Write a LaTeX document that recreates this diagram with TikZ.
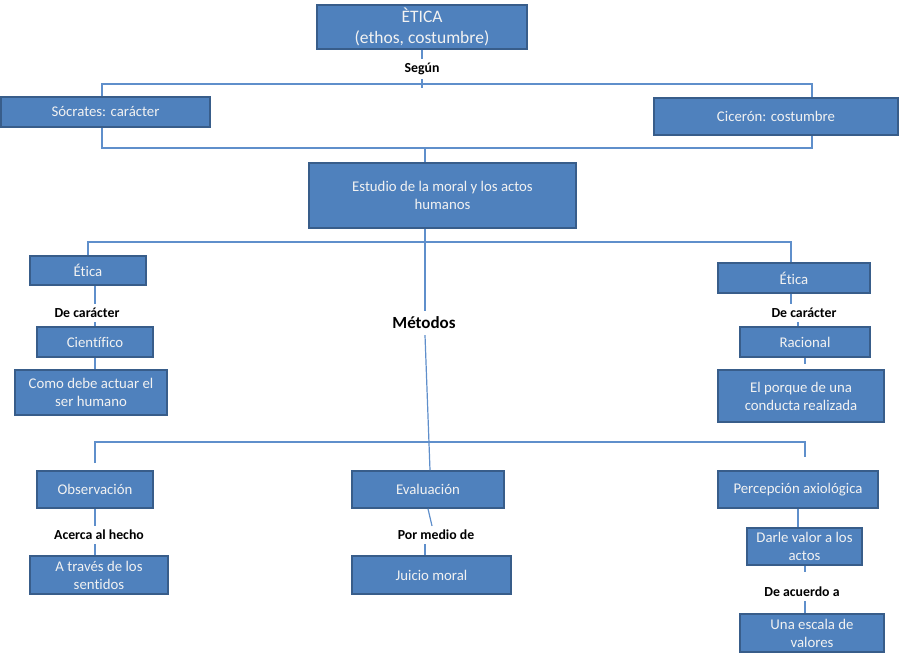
\documentclass[tikz,border=0pt]{standalone}
\usepackage{fontspec}
\setmainfont{Carlito}[Ligatures=NoCommon]
\usetikzlibrary{calc}
\definecolor{boxfill}{HTML}{4F81BD}
\definecolor{boxedge}{HTML}{385D8A}
\definecolor{connc}{HTML}{5F8FCB}
\definecolor{boxtext}{HTML}{F2F2F2}
\tikzset{
  box/.style={draw=boxedge, fill=boxfill, line width=1.6pt, text=boxtext, align=center, inner sep=0pt,
    font=\fontsize{14.8}{18}\selectfont},
  lab/.style={text=black, font=\fontsize{13.8}{15}\selectfont\bfseries, inner xsep=2pt, inner ysep=4pt},
  conn/.style={draw=connc, line width=1.2pt},
}
\begin{document}
\begin{tikzpicture}[x=1pt,y=-1pt]
\useasboundingbox (0,0) rectangle (900,660);
% boxes
\node[box, minimum width=210pt, minimum height=44pt, font=\fontsize{17.5}{21}\selectfont] (etica) at (422,27) {ÈTICA\\(ethos, costumbre)};
\node[box, minimum width=209pt, minimum height=30pt] (socrates) at (105.5,112) {Sócrates: carácter};
\node[box, minimum width=244pt, minimum height=37pt] (ciceron) at (776,116.5) {Cicerón: costumbre};
\node[box, minimum width=267pt, minimum height=65pt] (estudio) at (442.5,195.5) {Estudio de la moral y los actos\\humanos};
\node[box, minimum width=116pt, minimum height=29pt] (eticaL) at (88,270.5) {Ética};
\node[box, minimum width=116pt, minimum height=30pt] (cientifico) at (95,342) {Científico};
\node[box, minimum width=152pt, minimum height=45pt] (como) at (91,392.5) {Como debe actuar el\\ser humano};
\node[box, minimum width=152pt, minimum height=30pt] (eticaR) at (794,278) {Ética};
\node[box, minimum width=130pt, minimum height=30pt] (racional) at (805,342) {Racional};
\node[box, minimum width=166pt, minimum height=52pt] (porque) at (801,396) {El porque de una\\conducta realizada};
\node[box, minimum width=116pt, minimum height=37pt] (observacion) at (95,489.5) {Observación};
\node[box, minimum width=138pt, minimum height=38pt] (traves) at (99,575) {A través de los\\sentidos};
\node[box, minimum width=152pt, minimum height=37pt] (evaluacion) at (428,489.5) {Evaluación};
\node[box, minimum width=159pt, minimum height=38pt] (juicio) at (431.5,575) {Juicio moral};
\node[box, minimum width=160pt, minimum height=37pt] (percepcion) at (798,489.5) {Percepción axiológica};
\node[box, minimum width=115pt, minimum height=37pt] (darle) at (804.5,546.5) {Darle valor a los\\actos};
\node[box, minimum width=144pt, minimum height=38pt] (escala) at (812,633) {Una escala de\\valores};
% labels
\node[lab] (segun) at (422,69) {Según};
\node[lab] (decL) at (87,313) {De carácter};
\node[lab] (decR) at (804,313) {De carácter};
\node[lab, font=\fontsize{17}{19}\selectfont\bfseries, inner ysep=6pt] (metodos) at (424,323) {Métodos};
\node[lab] (acerca) at (99,535) {Acerca al hecho};
\node[lab] (pormedio) at (436,535) {Por medio de};
\node[lab] (deacuerdo) at (802,592) {De acuerdo a};
% helper coordinates
\coordinate (t1) at (422,88);
\coordinate (hL) at (102,84); \coordinate (hR) at (812,84);
\coordinate (bL) at (102,148); \coordinate (bR) at (812,148); \coordinate (b0) at (425,148);
\coordinate (m1) at (88,242); \coordinate (m2) at (791,242); \coordinate (m0) at (425,242);
\coordinate (n1) at (95,442); \coordinate (n2) at (805,442);
\coordinate (n1b) at (95,463); \coordinate (n2b) at (805,457);
\coordinate (xl) at (95,0); \coordinate (xr1) at (791,0); \coordinate (xr2) at (798,0); \coordinate (xr3) at (805,0);
\coordinate (pq) at (805,364); \coordinate (dv) at (805,572);
% connectors
\draw[conn] (etica.south) -- (segun.north);
\draw[conn] (segun.south) -- (t1);
\draw[conn] (socrates.north -| hL) -- (hL) -- (hR) -- (ciceron.north -| hR);
\draw[conn] (socrates.south -| bL) -- (bL) -- (bR) -- (ciceron.south -| bR);
\draw[conn] (b0) -- (estudio.north -| b0);
\draw[conn] (eticaL.north -| m1) -- (m1) -- (m2) -- (eticaR.north -| m2);
\draw[conn] (estudio.south -| m0) -- (metodos.north -| m0);
\draw[conn] ([xshift=1pt]metodos.south) -- ([xshift=2pt]evaluacion.north);
\draw[conn] (n1b) -- (n1) -- (n2) -- (n2b);
\draw[conn] (eticaL.south -| xl) -- (decL.north -| xl);
\draw[conn] (decL.south -| xl) -- (cientifico.north -| xl);
\draw[conn] (cientifico.south -| xl) -- (como.north -| xl);
\draw[conn] (eticaR.south -| xr1) -- (decR.north -| xr1);
\draw[conn] (decR.south -| xr2) -- (racional.north -| xr2);
\draw[conn] (racional.south -| xr3) -- (pq);
\draw[conn] (observacion.south -| xl) -- (acerca.north -| xl);
\draw[conn] (acerca.south -| xl) -- (traves.north -| xl);
\draw[conn] (evaluacion.south) -- ([xshift=-4pt]pormedio.north);
\draw[conn] ([xshift=-11pt]pormedio.south) -- ([xshift=-6.5pt]juicio.north);
\draw[conn] (percepcion.south) -- (darle.north -| percepcion.south);
\draw[conn] (darle.south -| xr3) -- (dv);
\draw[conn] (deacuerdo.south -| xr3) -- (escala.north -| xr3);
\end{tikzpicture}
\end{document}
